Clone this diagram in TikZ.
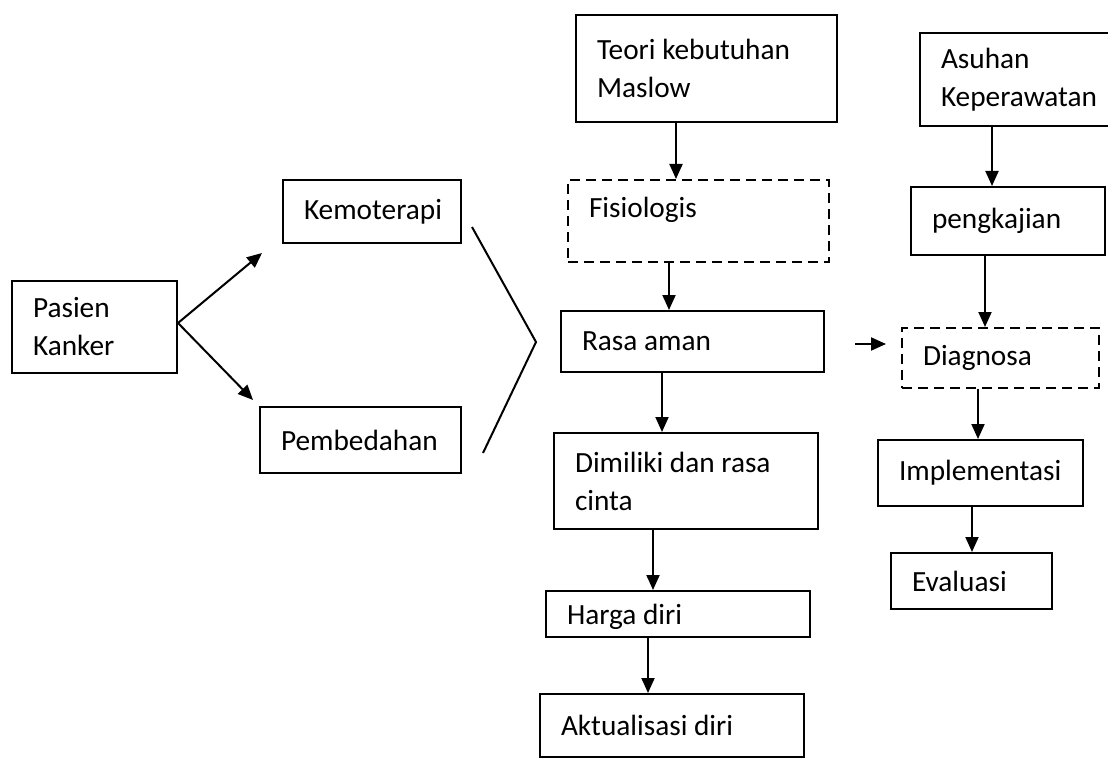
\documentclass[tikz,border=0pt]{standalone}
\usepackage{fontspec}
\setmainfont{Carlito}
\usetikzlibrary{arrows.meta}
\tikzset{
  box/.style={draw, line width=2pt, inner xsep=21pt, inner ysep=0pt, anchor=center, align=left,
    font=\fontsize{29.3}{38}\selectfont,
    execute at begin node={\spaceskip=0pt\xspaceskip=0pt\relax}},
  dbox/.style={box, dash pattern=on 10pt off 6pt},
  arr/.style={line width=2pt, -{Triangle[length=15pt,width=13pt]}},
  plain/.style={line width=2pt, line join=miter},
}
\begin{document}
\begin{tikzpicture}[x=1pt, y=-1pt]
\useasboundingbox (0,0) rectangle (1108,762);
% left part
\node[box, text width=123pt, minimum height=92pt] (pasien) at (94.5,327) {Pasien\\Kanker};
\node[box, text width=136pt, minimum height=63pt] (kemo) at (372,211.5) {Kemoterapi};
\node[box, text width=159pt, minimum height=66pt] (pemb) at (360.5,440) {Pembedahan};
\coordinate (t1) at (262,253);
\coordinate (t2) at (253,400);
\draw[arr] ([yshift=4pt]pasien.east) -- (t1);
\draw[arr] ([yshift=4pt]pasien.east) -- (t2);
\coordinate (b1) at (472,227);
\coordinate (b2) at (536,342);
\coordinate (b3) at (483,453);
\draw[plain] (b1) -- (b2) -- (b3);
% Maslow column
\node[box, text width=219pt, minimum height=107pt] (teori) at (706.5,68.5) {Teori kebutuhan\\Maslow};
\node[dbox, text width=219pt, minimum height=82pt, text depth=28pt] (fisio) at (698.5,221) {Fisiologis};
\node[box, text width=221pt, minimum height=61pt] (rasa) at (692.5,341.5) {Rasa aman};
\node[box, text width=222pt, minimum height=96pt] (dimil) at (686,481) {Dimiliki dan rasa\\cinta};
\node[box, text width=222pt, minimum height=46pt, text height=26pt] (harga) at (678,614) {Harga diri};
\node[box, text width=222pt, minimum height=63pt] (aktual) at (672,725.5) {Aktualisasi diri};
\draw[arr] ([xshift=-30.5pt]teori.south) -- ([xshift=-22.5pt]fisio.north);
\draw[arr] ([xshift=-29.5pt]fisio.south) -- ([xshift=-23.5pt]rasa.north);
\draw[arr] ([xshift=-30.5pt]rasa.south) -- ([xshift=-24pt]dimil.north);
\draw[arr] ([xshift=-33pt]dimil.south) -- ([xshift=-25pt]harga.north);
\draw[arr] ([xshift=-30pt]harga.south) -- ([xshift=-24pt]aktual.north);
% nursing column
\node[box, text width=163pt, minimum height=93pt] (asuhan) at (1022.5,79.5) {Asuhan\\Keperawatan};
\node[box, text width=152pt, minimum height=68pt] (pengk) at (1008,221) {pengkajian};
\node[dbox, text width=155pt, minimum height=60pt] (diag) at (1000.5,358) {Diagnosa};
\node[box, text width=163pt, minimum height=66pt] (impl) at (980.5,473) {Implementasi};
\node[box, text width=119pt, minimum height=56pt] (eval) at (971.5,581) {Evaluasi};
\draw[arr] ([xshift=-30.5pt]asuhan.south) -- ([xshift=-16pt]pengk.north);
\draw[arr] ([xshift=-23pt]pengk.south) -- ([xshift=-15.5pt]diag.north);
\draw[arr] ([xshift=-22.5pt]diag.south) -- ([xshift=-2.5pt]impl.north);
\draw[arr] ([xshift=-8.5pt]impl.south) -- ([xshift=0.5pt]eval.north);
\coordinate (s1) at (855,344);
\coordinate (s2) at (886,344);
\draw[arr] (s1) -- (s2);
\end{tikzpicture}
\end{document}
